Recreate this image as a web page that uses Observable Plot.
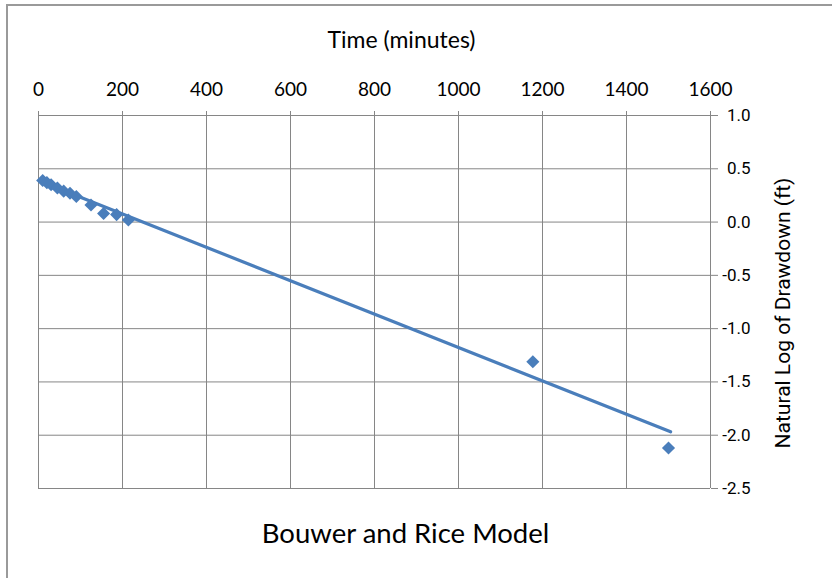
<!DOCTYPE html>
<html>
<head>
<meta charset="utf-8">
<script src="https://cdn.jsdelivr.net/npm/d3@7"></script>
<script src="https://cdn.jsdelivr.net/npm/@observablehq/plot@0.6"></script>
<style>
  html, body { margin: 0; padding: 0; background: #fff; }
  #wrap { position: relative; width: 832px; height: 578px; overflow: hidden; }
  #border { position: absolute; left: 6px; top: 4px; width: 900px; height: 700px; border-left: 2px solid #9a9a9a; border-top: 2px solid #9a9a9a; }
  #chart { position: absolute; left: 0; top: 0; }
</style>
</head>
<body>
<div id="wrap"><div id="border"></div><div id="chart"></div></div>
<script>
// Observed data: time (minutes) and natural log of drawdown (ft)
const timeMin = [10, 20, 30, 45, 60, 75, 90, 125, 155, 186, 214, 1177, 1500];
const lnDrawdown = [0.39, 0.37, 0.35, 0.32, 0.29, 0.27, 0.24, 0.16, 0.08, 0.07, 0.02, -1.31, -2.12];

// Excel-style linear trend line endpoints
const trendTime = [10, 1505];
const trendLn = [0.374, -1.968];

const xTicks = [0, 200, 400, 600, 800, 1000, 1200, 1400, 1600];
const yTicks = [1.0, 0.5, 0.0, -0.5, -1.0, -1.5, -2.0, -2.5];

const xTitle = "Time (minutes)";
const yTitle = "Natural Log of Drawdown (ft)";
const chartTitle = "Bouwer and Rice Model";

const points = timeMin.map((t, i) => ({t, y: lnDrawdown[i]}));
const trend = trendTime.map((t, i) => ({t, y: trendLn[i]}));

const blue = "#4a7ebb";
const grid = "#868686";

const chart = Plot.plot({
  width: 832,
  height: 578,
  marginLeft: 38,
  marginRight: 122,
  marginTop: 115,
  marginBottom: 90,
  style: {background: "transparent", overflow: "visible"},
  x: {domain: [0, 1600]},
  y: {domain: [-2.5, 1.0]},
  marks: [
    Plot.gridX(xTicks, {stroke: grid, strokeOpacity: 1, strokeWidth: 1}),
    Plot.gridY(yTicks, {stroke: grid, strokeOpacity: 1, strokeWidth: 1}),
    Plot.axisX(xTicks, {anchor: "top", tickSize: 5, tickPadding: 15, stroke: grid, label: null,
      fontSize: 19, fontFamily: "Lato, sans-serif", fill: "#000", tickFormat: d => String(d)}),
    Plot.axisY(yTicks, {anchor: "right", tickSize: 7, tickPadding: 33, stroke: grid, label: null, textAnchor: "end",
      fontSize: 17, fontFamily: "Roboto, sans-serif", fill: "#000", tickFormat: d => d.toFixed(1)}),
    Plot.line(trend, {x: "t", y: "y", stroke: blue, strokeWidth: 3.2}),
    Plot.dot(points, {x: "t", y: "y", symbol: "diamond2", r: 5.9, fill: blue, stroke: "none"}),
    Plot.text([xTitle], {frameAnchor: "top", lineAnchor: "middle", dy: -75, dx: 27, text: d => d, fontSize: 23,
      fontFamily: "Lato, sans-serif", fill: "#000"}),
    Plot.text([yTitle], {frameAnchor: "right", textAnchor: "middle", lineAnchor: "middle", dx: 73, dy: 11, rotate: -90,
      text: d => d, fontSize: 21, fontFamily: "Roboto, sans-serif", fill: "#000"}),
    Plot.text([chartTitle], {frameAnchor: "bottom", lineAnchor: "middle", dy: 46, dx: 31, text: d => d, fontSize: 27.5,
      fontFamily: "Lato, sans-serif", fill: "#000"})
  ]
});
document.getElementById("chart").appendChild(chart);
</script>
</body>
</html>
